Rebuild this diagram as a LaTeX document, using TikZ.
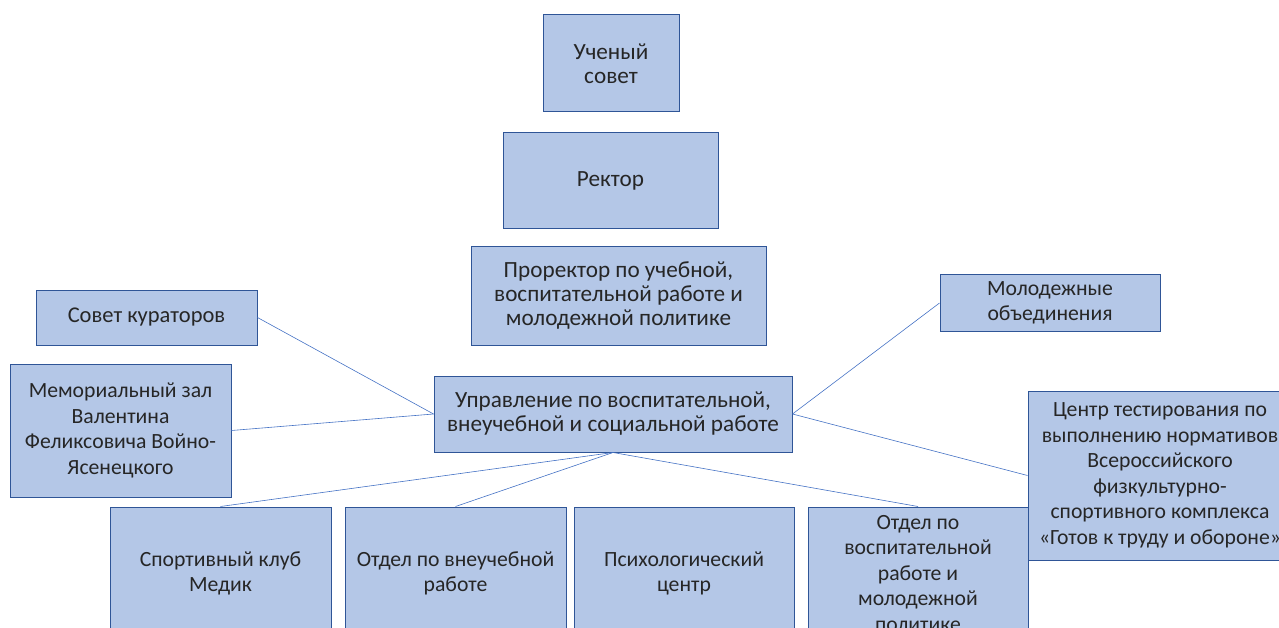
\documentclass[tikz,border=0pt]{standalone}
\usepackage{fontspec}
\setmainfont{Carlito}
\definecolor{boxfill}{HTML}{B4C7E7}
\definecolor{boxline}{HTML}{2F5597}
\definecolor{linkline}{HTML}{4472C4}
\tikzset{
  unit/.style={draw=boxline, fill=boxfill, line width=1pt, align=center, inner sep=0pt,
    text=black!85, font=\fontsize{21.7}{25.5}\selectfont},
  bigtext/.style={font=\fontsize{23.2}{24}\selectfont},
  link/.style={draw=linkline, line width=0.6pt},
}
\begin{document}
\begin{tikzpicture}[x=1pt, y=-1pt]
    \useasboundingbox (0,0) rectangle (1279,628);
    \clip (0,0) rectangle (1279,628);

    % top of the chart
    \node[unit, bigtext, minimum width=136pt, minimum height=97pt] (council) at (611,63.5) {Ученый\\совет};
    \node[unit, bigtext, minimum width=215pt, minimum height=96pt] (rector) at (610.5,181) {Ректор};
    \node[unit, bigtext, minimum width=295pt, minimum height=98pt] (prorector) at (618.5,296)
        {Проректор по учебной,\\воспитательной работе и\\молодежной политике};

    % the office and its neighbours
    \node[unit, bigtext, minimum width=358pt, minimum height=76pt] (office) at (613,414)
        {Управление по воспитательной,\\внеучебной и социальной работе};
    \node[unit, minimum width=221pt, minimum height=55pt, font=\fontsize{22.5}{26}\selectfont] (curators) at (146.5,317.5) {Совет кураторов};
    \node[unit, minimum width=221pt, minimum height=133pt] (memorial) at (120.5,430.5)
        {Мемориальный зал\\Валентина\\Феликсовича Войно-\\Ясенецкого};
    \node[unit, minimum width=220pt, minimum height=56pt] (youth) at (1050,303) {Молодежные\\объединения};
    \node[unit, minimum width=264pt, minimum height=169pt] (testing) at (1160,475.5)
        {Центр тестирования по\\выполнению нормативов\\Всероссийского\\физкультурно-\\спортивного комплекса\\«Готов к труду и обороне»};

    % bottom row
    \node[unit, minimum width=221pt, minimum height=133pt] (sport) at (220.5,573.5) {Спортивный клуб\\Медик};
    \node[unit, minimum width=221pt, minimum height=133pt] (extra) at (455.5,573.5) {Отдел по внеучебной\\работе};
    \node[unit, minimum width=220pt, minimum height=133pt] (psych) at (684,573.5) {Психологический\\центр};
    \node[unit, minimum width=220pt, minimum height=133pt] (upbringing) at (918,573.5)
        {Отдел по\\воспитательной\\работе и\\молодежной\\политике};

    \draw[link] (curators.east) -- (office.west);
    \draw[link] (memorial.east) -- (office.west);
    \draw[link] (youth.west) -- (office.east);
    \draw[link] (testing.west) -- (office.east);
    \draw[link] (office.south) -- (sport.north);
    \draw[link] (office.south) -- (extra.north);
    \draw[link] (office.south) -- (upbringing.north);
\end{tikzpicture}
\end{document}
